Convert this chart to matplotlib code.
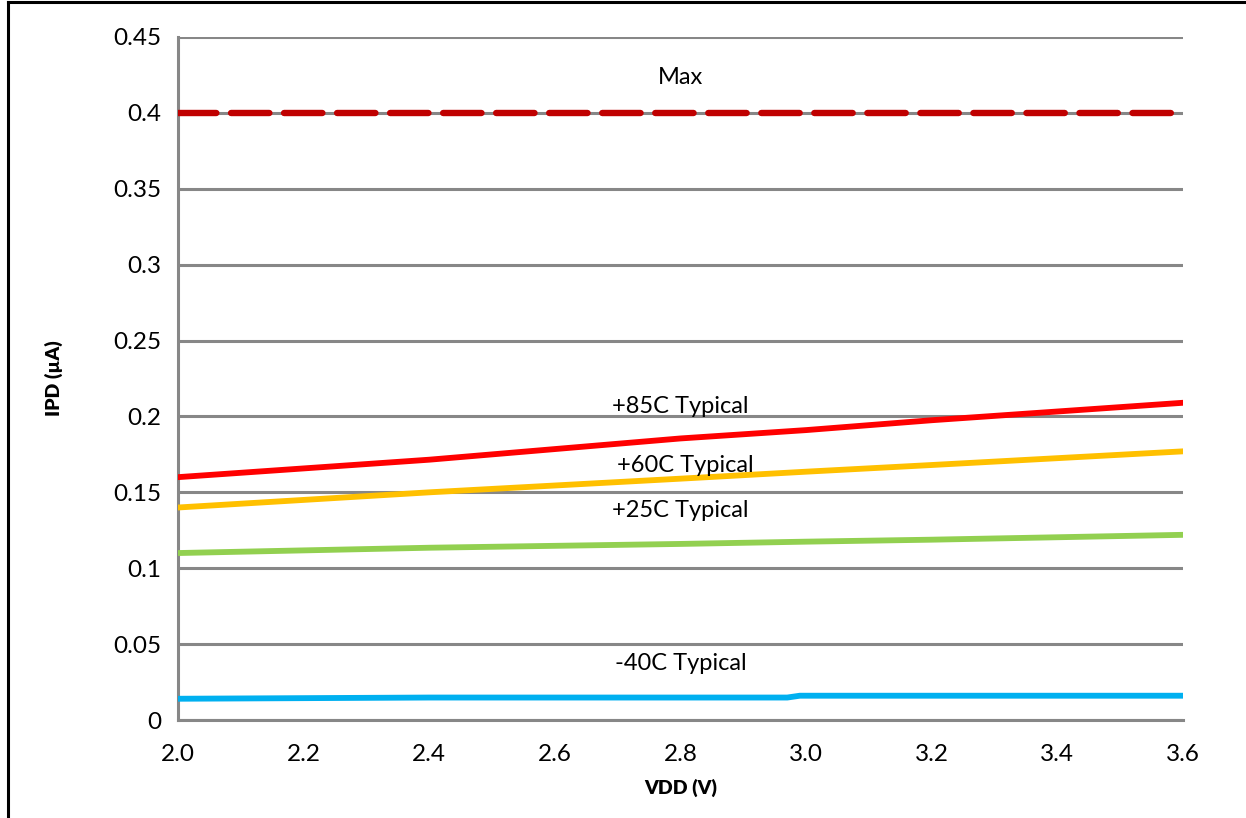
import matplotlib.pyplot as plt
from matplotlib.lines import Line2D

plt.rcParams['font.family'] = ['Lato', 'DejaVu Sans']

# data
vdd = [2.0, 2.4, 2.8, 3.0, 3.2, 3.6]
ipd_85 = [0.160, 0.1715, 0.1855, 0.191, 0.1975, 0.209]
ipd_60 = [0.140, 0.150, 0.159, 0.1636, 0.168, 0.177]
ipd_25 = [0.110, 0.1135, 0.116, 0.1175, 0.1188, 0.122]
vdd_m40 = [2.0, 2.4, 2.97, 2.99, 3.6]
ipd_m40 = [0.014, 0.0148, 0.0148, 0.016, 0.016]
max_x = [2.0, 3.6]
max_y = [0.4, 0.4]

labels = ["Max", "+85C Typical", "+60C Typical", "+25C Typical", "-40C Typical"]
label_x = [2.8, 2.8, 2.807, 2.8, 2.8]
label_y = [0.4236, 0.2065, 0.1676, 0.1379, 0.0369]

fig = plt.figure(figsize=(12.46, 8.18), dpi=100)
ax = fig.add_axes([0.1429, 0.1198, 0.8065, 0.835])

grid_c = "#878787"
for v in [i * 0.05 for i in range(10)]:
    ax.axhline(v, color=grid_c, lw=2.2, zorder=1)

ax.plot(max_x, max_y, color="#C00000", lw=4.6, dashes=(6.0, 2.3),
        solid_capstyle="round", dash_capstyle="round", zorder=3)
ax.plot(vdd, ipd_85, color="#FF0000", lw=4.2, zorder=3)
ax.plot(vdd, ipd_60, color="#FFC000", lw=4.2, zorder=3)
ax.plot(vdd, ipd_25, color="#92D050", lw=4.2, zorder=3)
ax.plot(vdd_m40, ipd_m40, color="#00B0F0", lw=4.2, zorder=3)

for t, x, y in zip(labels, label_x, label_y):
    ax.text(x, y, t, ha="center", va="center", fontsize=17)

ax.set_xlim(2.0, 3.6)
ax.set_ylim(0, 0.45)
ax.set_xticks([2.0, 2.2, 2.4, 2.6, 2.8, 3.0, 3.2, 3.4, 3.6])
ax.set_xticklabels(["2.0", "2.2", "2.4", "2.6", "2.8", "3.0", "3.2", "3.4", "3.6"])
ax.set_yticks([i * 0.05 for i in range(10)])
ax.set_yticklabels(["0", "0.05", "0.1", "0.15", "0.2", "0.25", "0.3", "0.35", "0.4", "0.45"])
ax.tick_params(length=0, labelsize=17.5, pad=12)
ax.tick_params(axis="x", pad=17)

for s in ["top", "right"]:
    ax.spines[s].set_visible(False)
for s in ["left", "bottom"]:
    ax.spines[s].set_color(grid_c)
    ax.spines[s].set_linewidth(2.2)

ax.set_xlabel("VDD (V)", fontsize=14, fontweight="heavy", labelpad=10)
ax.set_ylabel("IPD (µA)", fontsize=14, fontweight="heavy", labelpad=36)

# outer frame (left and top edges only visible)
fig.add_artist(Line2D([0.0065, 0.0065], [0, 0.998], color="black", lw=2.2, transform=fig.transFigure))
fig.add_artist(Line2D([0.0065, 1.0], [0.9975, 0.9975], color="black", lw=2.2, transform=fig.transFigure))

fig.savefig("out.png", dpi=100)
